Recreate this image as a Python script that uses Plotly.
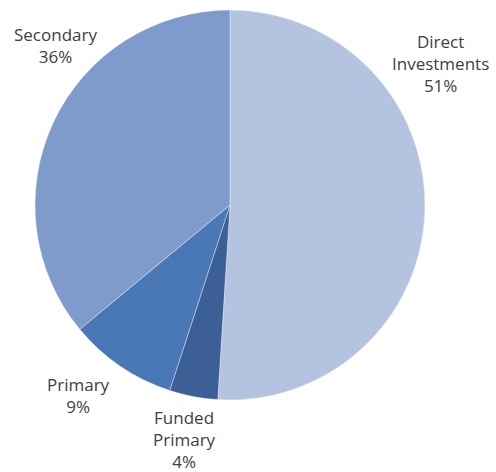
import plotly.graph_objects as go

# Portfolio allocation by strategy
labels = ["Direct Investments", "Funded Primary", "Primary", "Secondary"]
values = [51, 4, 9, 36]
colors = ["#b4c3e0", "#3c5f96", "#4a78b7", "#7f9bcb"]

W, H = 496, 472

# label anchor points (pixel centres) for each slice's caption
label_pos = {
    "Direct Investments": (440, 64),
    "Funded Primary": (184, 439),
    "Primary": (78, 395),
    "Secondary": (55, 46),
}
label_lines = {
    "Direct Investments": ["Direct", "Investments"],
    "Funded Primary": ["Funded", "Primary"],
    "Primary": ["Primary"],
    "Secondary": ["Secondary"],
}

cx, cy, r = 230, 205, 195

fig = go.Figure(
    go.Pie(
        labels=labels,
        values=values,
        sort=False,
        direction="clockwise",
        rotation=0,
        marker=dict(colors=colors, line=dict(color="rgba(255,255,255,0.6)", width=0.6)),
        textinfo="none",
        hoverinfo="label+percent",
        domain=dict(x=[(cx - r) / W, (cx + r) / W], y=[1 - (cy + r) / H, 1 - (cy - r) / H]),
        showlegend=False,
    )
)

total = sum(values)
for lab, val in zip(labels, values):
    px, py = label_pos[lab]
    text = "<br>".join(label_lines[lab] + [f"{round(100 * val / total)}%"])
    fig.add_annotation(
        x=px / W,
        y=1 - py / H,
        xref="paper",
        yref="paper",
        text=text,
        showarrow=False,
        align="center",
        xanchor="center",
        yanchor="middle",
        font=dict(family="Open Sans", size=17, color="#404040"),
    )

fig.update_layout(
    width=W,
    height=H,
    margin=dict(l=0, r=0, t=0, b=0),
    paper_bgcolor="white",
    plot_bgcolor="white",
)

fig.write_html("out.html")
